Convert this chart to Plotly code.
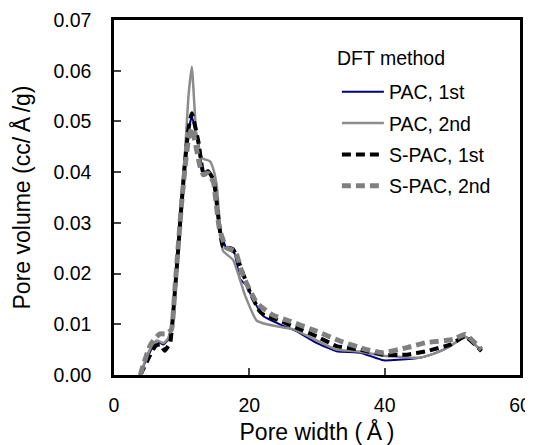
import plotly.graph_objects as go

# ---- data ----
pac1_x = [3.9, 4.5, 5.3, 6.3, 7.3, 8.0, 8.5, 9.0, 9.5, 10.0, 10.5, 11.0, 11.5, 12.0, 12.5, 13.2, 13.9, 14.7, 15.0, 15.6,
          16.6, 17.8, 18.6, 19.6, 20.5, 22.1, 24.5, 27.0, 30.0, 32.9, 36.4, 39.8, 42.0, 45.2, 47.5, 49.7, 51.9, 54.3]
pac1_y = [0.0, 0.0022, 0.0045, 0.0067, 0.0060, 0.0070, 0.0096, 0.0169, 0.0254, 0.0346, 0.0420, 0.0480, 0.0510, 0.0485,
          0.0455, 0.0400, 0.0403, 0.0385, 0.0360, 0.0290, 0.0250, 0.0240, 0.0190, 0.0176, 0.0150, 0.0116, 0.0100, 0.0086,
          0.0063, 0.0047, 0.0044, 0.0029, 0.0030, 0.0034, 0.0043, 0.0057, 0.0076, 0.0047]

pac2_x = [3.9, 4.5, 5.3, 6.3, 7.3, 8.0, 8.5, 9.0, 9.5, 10.0, 10.5, 11.0, 11.5, 12.2, 13.0, 14.2, 14.7, 15.2, 16.1, 17.6,
          19.4, 21.1, 22.6, 26.5, 30.0, 32.9, 36.4, 39.8, 42.0, 45.2, 47.5, 49.7, 51.9, 54.3]
pac2_y = [0.0, 0.0025, 0.0050, 0.0068, 0.0063, 0.0072, 0.0098, 0.0172, 0.0260, 0.0355, 0.0440, 0.0549, 0.0608, 0.0470,
          0.0428, 0.0421, 0.0405, 0.0372, 0.0245, 0.0227, 0.0156, 0.0107, 0.0100, 0.0090, 0.0068, 0.0050, 0.0046, 0.0038,
          0.0036, 0.0034, 0.0043, 0.0057, 0.0075, 0.0048]

spac1_x = [3.9, 4.3, 5.3, 6.1, 6.8, 7.5, 8.3, 9.0, 9.5, 10.0, 10.5, 11.0, 11.5, 12.5, 13.2, 13.9, 14.7, 15.0, 15.6, 16.1,
           17.6, 18.8, 20.1, 21.5, 22.1, 24.5, 27.0, 30.0, 32.9, 36.4, 39.8, 43.3, 46.2, 49.7, 51.9, 54.3]
spac1_y = [0.0, 0.0011, 0.0038, 0.0057, 0.0060, 0.0048, 0.0064, 0.0165, 0.0250, 0.0340, 0.0420, 0.0485, 0.0516, 0.0458,
           0.0399, 0.0402, 0.0385, 0.0360, 0.0290, 0.0254, 0.0248, 0.0210, 0.0163, 0.0126, 0.0119, 0.0107, 0.0093,
           0.0076, 0.0057, 0.0050, 0.0040, 0.0040, 0.0047, 0.0060, 0.0076, 0.0047]

spac2_x = [3.9, 4.3, 5.3, 6.0, 6.8, 7.8, 8.5, 9.0, 9.5, 10.0, 10.5, 11.0, 11.5, 12.7, 13.2, 13.9, 14.7, 15.0, 15.6, 16.6,
           17.9, 19.1, 21.1, 23.5, 26.0, 30.0, 33.4, 37.3, 39.8, 43.3, 46.2, 50.1, 51.9, 54.3]
spac2_y = [0.0, 0.0019, 0.0057, 0.0071, 0.0081, 0.0081, 0.0090, 0.0170, 0.0255, 0.0340, 0.0410, 0.0465, 0.0487, 0.0412,
           0.0395, 0.0398, 0.0380, 0.0350, 0.0287, 0.0251, 0.0244, 0.0195, 0.0142, 0.0118, 0.0106, 0.0086, 0.0067,
           0.0050, 0.0044, 0.0054, 0.0064, 0.0070, 0.0080, 0.0050]

series_names = ["PAC, 1st", "PAC, 2nd", "S-PAC, 1st", "S-PAC, 2nd"]
legend_title = "DFT method"
x_title = "Pore width (\u2009Å\u2009)"
y_title = "Pore volume (cc/\u2009Å\u2009/g)"
x_ticks = [0, 20, 40, 60]
y_ticks = [0.00, 0.01, 0.02, 0.03, 0.04, 0.05, 0.06, 0.07]

FONT = "Liberation Sans, Arial, sans-serif"
FS = 19.5

fig = go.Figure()
styles = [
    dict(color="#000080", width=2, dash="solid"),
    dict(color="#8c8c8c", width=2.5, dash="solid"),
    dict(color="#000000", width=4, dash="9px,5px"),
    dict(color="#808080", width=5, dash="9px,5px"),
]
data = [(pac1_x, pac1_y), (pac2_x, pac2_y), (spac1_x, spac1_y), (spac2_x, spac2_y)]
for i, ((xs, ys), name, st) in enumerate(zip(data, series_names, styles)):
    fig.add_trace(go.Scatter(x=xs, y=ys, mode="lines", name=name, legendgroup=f"g{i}",
                             line=dict(color=st["color"], width=st["width"], dash=st["dash"],
                                       shape="spline", smoothing=0.4)))

fig.add_annotation(text=legend_title, xref="paper", yref="paper", x=0.544, y=0.893,
                   xanchor="left", yanchor="middle", showarrow=False,
                   font=dict(family=FONT, size=FS, color="black"))

# the page body has an 8px margin, so the figure is sized/margined to compensate
fig.update_layout(
    width=525, height=437,
    margin=dict(l=106, r=13, t=12, b=69.5),
    paper_bgcolor="white", plot_bgcolor="white",
    font=dict(family=FONT, size=FS, color="black"),
    showlegend=True,
    legend=dict(x=0.549, y=0.852, xanchor="left", yanchor="top",
                bgcolor="rgba(0,0,0,0)", tracegroupgap=3,
                font=dict(size=FS), itemwidth=42),
    xaxis=dict(range=[0, 60], tickvals=x_ticks, ticks="inside", ticklen=7, tickwidth=2,
               showline=True, linewidth=2.5, linecolor="black", mirror=True, showgrid=False,
               zeroline=False, ticklabelstandoff=11, automargin=False,
               title=dict(text=x_title, standoff=14)),
    yaxis=dict(range=[0, 0.07], tickvals=y_ticks, tickformat=".2f", ticks="inside", ticklen=7, tickwidth=2,
               showline=True, linewidth=2.5, linecolor="black", mirror=True, showgrid=False,
               zeroline=False, ticklabelstandoff=16, automargin=False,
               title=dict(text=y_title, standoff=23)),
)

fig.write_html("out.html")
